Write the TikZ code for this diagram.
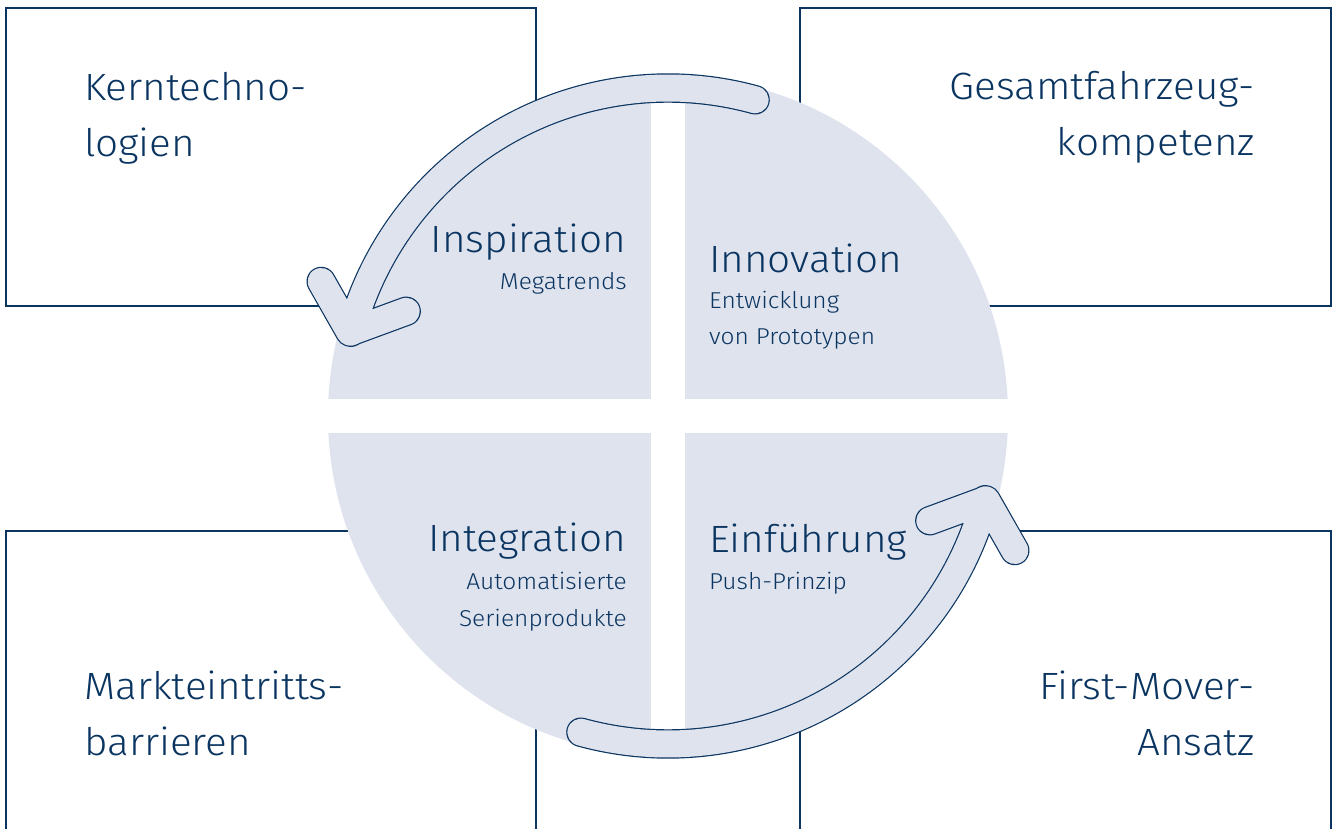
\documentclass[tikz,border=0pt]{standalone}
\usepackage{fontspec}
\setmainfont{Fira Sans}[UprightFont=* Light, FakeStretch=1.065]
\definecolor{navy}{HTML}{0B3561}
\definecolor{lightfill}{HTML}{DFE3EE}
\tikzset{
  box/.style={draw=navy, line width=1.3pt, fill=white},
  quad/.style={fill=lightfill},
  cyclearrow/.style={draw=navy, line width=1.2pt, double=lightfill, double distance=27pt, line cap=round, line join=round},
  bigtext/.style={inner sep=0pt, text=navy, font=\fontsize{38}{46}\selectfont},
  smalltext/.style={inner sep=0pt, text=navy, font=\fontsize{23}{28}\selectfont}
}
\begin{document}
\begin{tikzpicture}[x=1pt,y=1pt]
\useasboundingbox (0,0) rectangle (1336,828);
\fill[white] (0,0) rectangle (1336,828);
% boxes
\draw[box] (6,820) rectangle (536,522);
\draw[box] (800,820) rectangle (1331,522);
\draw[box] (6,297) rectangle (536,-20);
\draw[box] (800,297) rectangle (1331,-20);
% circle quadrants
\coordinate (C) at (668,412);
\begin{scope}
\clip (C) circle[radius=340];
\fill[quad] (685,429) rectangle (1100,800);
\fill[quad] (651,429) rectangle (250,800);
\fill[quad] (651,395) rectangle (250,0);
\fill[quad] (685,395) rectangle (1100,0);
\end{scope}
% arrows
\path[cyclearrow] ([shift={(74.6:328)}]C) arc[start angle=74.6, end angle=165.2, radius=328]
  ([shift={(158.8:372)}]C) -- ([shift={(165.2:329)}]C) -- ([shift={(158.2:282)}]C);
\path[cyclearrow] ([shift={(254.6:328)}]C) arc[start angle=254.6, end angle=345.2, radius=328]
  ([shift={(338.8:372)}]C) -- ([shift={(345.2:329)}]C) -- ([shift={(338.2:282)}]C);
% box texts
\node[bigtext, anchor=base west] (k1) at (84,727.3) {Kerntechno-};
\node[bigtext, anchor=base west] (k2) at (84,671.3) {logien};
\node[bigtext, anchor=base east] (g1) at (1255,728) {Gesamtfahrzeug-};
\node[bigtext, anchor=base east] (g2) at (1255,672) {kompetenz};
\node[bigtext, anchor=base west] (m1) at (84,129) {Markteintritts-};
\node[bigtext, anchor=base west] (m2) at (84,73) {barrieren};
\node[bigtext, anchor=base east] (f1) at (1255,129) {First-Mover-};
\node[bigtext, anchor=base east] (f2) at (1255,73) {Ansatz};
% quadrant texts
\node[bigtext, anchor=base east] (q1) at (626,575.3) {Inspiration};
\node[smalltext, anchor=base east] (q1s) at (627,538) {Megatrends};
\node[bigtext, anchor=base west] (q2) at (709,555.7) {Innovation};
\node[smalltext, anchor=base west] (q2s) at (709,519.7) {Entwicklung};
\node[smalltext, anchor=base west] (q2t) at (709,483) {von Prototypen};
\node[bigtext, anchor=base east] (q3) at (626,276.3) {Integration};
\node[smalltext, anchor=base east] (q3s) at (627,238) {Automatisierte};
\node[smalltext, anchor=base east] (q3t) at (627,201.3) {Serienprodukte};
\node[bigtext, anchor=base west] (q4) at (709,275) {Einführung};
\node[smalltext, anchor=base west] (q4s) at (709,238) {Push-Prinzip};
\end{tikzpicture}
\end{document}
